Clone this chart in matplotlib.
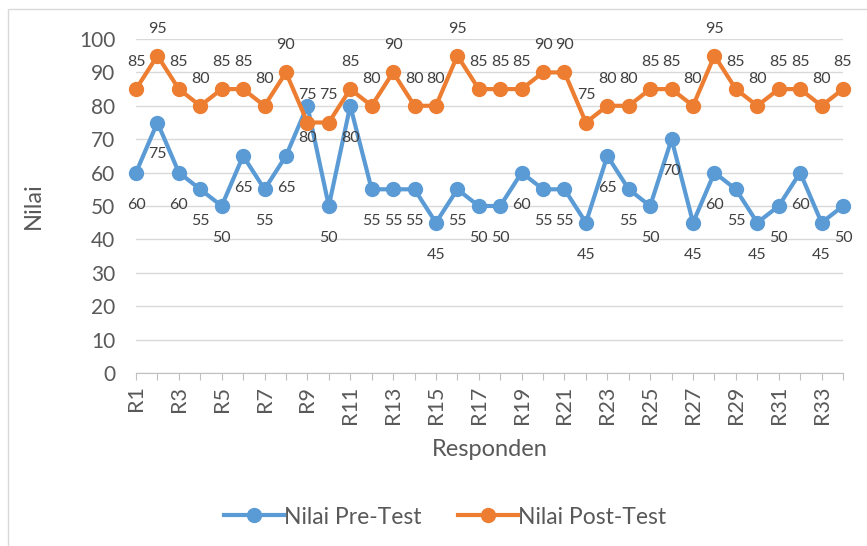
import matplotlib.pyplot as plt
from matplotlib.patches import Rectangle

plt.rcParams['font.family'] = ['Lato', 'DejaVu Sans']

# Data
responden = ['R%d' % i for i in range(1, 35)]
pre_test = [60, 75, 60, 55, 50, 65, 55, 65, 80, 50, 80, 55, 55, 55, 45, 55, 50,
            50, 60, 55, 55, 45, 65, 55, 50, 70, 45, 60, 55, 45, 50, 60, 45, 50]
post_test = [85, 95, 85, 80, 85, 85, 80, 90, 75, 75, 85, 80, 90, 80, 80, 95, 85,
             85, 85, 90, 90, 75, 80, 80, 85, 85, 80, 95, 85, 80, 85, 85, 80, 85]
y_ticks = list(range(0, 101, 10))

blue = '#5B9BD5'
orange = '#ED7D31'
text_col = '#595959'
label_col = '#404040'

fig = plt.figure(figsize=(8.67, 5.46), dpi=100)
# light chart border
fig.patches.append(Rectangle((8 / 867, -0.1), 1.0, 1 - 9 / 546 + 0.1,
                             transform=fig.transFigure, fill=False,
                             edgecolor='#d9d9d9', linewidth=1))

ax = fig.add_axes([136 / 867, 1 - 373 / 546, (843 - 136) / 867, (373 - 39) / 546])
x = list(range(len(responden)))

ax.plot(x, pre_test, color=blue, lw=3, marker='o', ms=10, clip_on=False,
        zorder=3, label='Nilai Pre-Test')
ax.plot(x, post_test, color=orange, lw=3, marker='o', ms=10, clip_on=False,
        zorder=3, label='Nilai Post-Test')

# data labels: pre-test below, post-test above
for xi, v in zip(x, pre_test):
    ax.annotate(str(v), (xi, v), xytext=(0, -23), textcoords='offset points',
                ha='center', va='center', fontsize=11.5, color=label_col,
                annotation_clip=False)
for xi, v in zip(x, post_test):
    ax.annotate(str(v), (xi, v), xytext=(0, 19.5), textcoords='offset points',
                ha='center', va='center', fontsize=11.5, color=label_col,
                annotation_clip=False)

ax.set_xlim(0, len(responden) - 1)
ax.set_ylim(0, 100)
ax.set_yticks(y_ticks)
ax.set_xticks(x)
ax.set_xticklabels([r if i % 2 == 0 else '' for i, r in enumerate(responden)],
                   rotation=90)
ax.grid(axis='y', color='#d9d9d9', lw=1)
ax.set_axisbelow(True)

for s in ['top', 'right', 'left']:
    ax.spines[s].set_visible(False)
ax.spines['bottom'].set_color('#bfbfbf')
ax.tick_params(axis='y', length=0, labelsize=15, labelcolor=text_col, pad=15)
ax.tick_params(axis='x', length=5, color='#bfbfbf', labelsize=15.5,
               labelcolor=text_col, pad=4)

ax.set_xlabel('Responden', fontsize=17, color=text_col, labelpad=11)
ax.set_ylabel('Nilai', fontsize=17, color=text_col, labelpad=25)

fig.legend(loc='center', bbox_to_anchor=(445 / 867, 1 - 517 / 546), ncol=2,
           frameon=False, fontsize=16.5, labelcolor=text_col, handlelength=2.6,
           handletextpad=0.0, columnspacing=1.6)

fig.savefig('out.png', dpi=100)
